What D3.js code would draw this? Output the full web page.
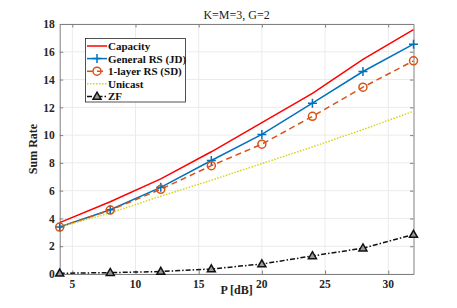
<!DOCTYPE html>
<html><head><meta charset="utf-8">
<script src="https://cdn.jsdelivr.net/npm/d3@7"></script>
<style>body{margin:0;background:#fff;} text{font-family:"Liberation Serif","Times New Roman",serif;}</style>
</head><body>
<svg id="c" width="457" height="308"></svg>
<script>
const powerDb = [4, 8, 12, 16, 20, 24, 28, 32];
const capacity = [3.7, 5.2, 6.85, 8.8, 10.9, 13.0, 15.45, 17.6];
const generalRS = [3.38, 4.63, 6.24, 8.17, 10.05, 12.3, 14.58, 16.55];
const oneLayerRS = [3.38, 4.6, 6.1, 7.8, 9.35, 11.35, 13.45, 15.35];
const unicast = [3.38, 4.4, 5.6, 6.75, 7.95, 9.15, 10.4, 11.72];
const zf = [0.05, 0.1, 0.18, 0.36, 0.72, 1.3, 1.86, 2.84];
const xTicks = [5, 10, 15, 20, 25, 30];
const yTicks = [0, 2, 4, 6, 8, 10, 12, 14, 16, 18];
const seriesNames = ["Capacity", "General RS (JD)", "1-layer RS (SD)", "Unicast", "ZF"];
const title = "K=M=3, G=2";
const xLabel = "P [dB]";
const yLabel = "Sum Rate";

const svg = d3.select("#c");
const L = 59.7, R = 413.5, T = 24, B = 274;
const x = d3.scaleLinear().domain([4, 32]).range([L, R]);
const y = d3.scaleLinear().domain([0, 18]).range([B, T]);

// grid
const g = svg.append("g");
g.selectAll("line.gx").data(xTicks).enter().append("line").attr("class", "gx")
  .attr("x1", d => x(d)).attr("x2", d => x(d)).attr("y1", T).attr("y2", B)
  .attr("stroke", "#ebebeb").attr("stroke-width", 1);
g.selectAll("line.gy").data(yTicks).enter().append("line").attr("class", "gy")
  .attr("y1", d => y(d)).attr("y2", d => y(d)).attr("x1", L).attr("x2", R)
  .attr("stroke", "#ebebeb").attr("stroke-width", 1);

// axes
const axCol = "#262626";
const xb = svg.append("g").attr("transform", `translate(0,${B})`)
  .call(d3.axisBottom(x).tickValues(xTicks).tickSizeInner(-3.5).tickSizeOuter(0).tickFormat(() => ""));
const xt = svg.append("g").attr("transform", `translate(0,${T})`)
  .call(d3.axisTop(x).tickValues(xTicks).tickSizeInner(-3.5).tickSizeOuter(0).tickFormat(() => ""));
const yl = svg.append("g").attr("transform", `translate(${L},0)`)
  .call(d3.axisLeft(y).tickValues(yTicks).tickSizeInner(-3.5).tickSizeOuter(0).tickPadding(5));
const yr = svg.append("g").attr("transform", `translate(${R},0)`)
  .call(d3.axisRight(y).tickValues(yTicks).tickSizeInner(-3.5).tickSizeOuter(0).tickFormat(() => ""));
[xb, xt, yl, yr].forEach(a => {
  a.select(".domain").attr("stroke", "#808080").attr("stroke-width", 1);
  a.selectAll(".tick line").attr("stroke", "#808080");
  a.selectAll("text").attr("fill", axCol).style("font-family", "'Liberation Serif',serif")
    .style("font-size", "11.5px").style("font-weight", "bold");
});
// x tick labels
svg.append("g").selectAll("text.xl").data(xTicks).enter().append("text").attr("class", "xl")
  .attr("x", d => x(d)).attr("y", 288).attr("text-anchor", "middle")
  .style("font-size", "11.5px").style("font-weight", "bold").attr("fill", axCol)
  .text(d => d);

// lines
const line = d3.line().x((d, i) => x(powerDb[i])).y(d => y(d));
const styles = [
  {data: capacity, color: "#FF0000", dash: null, w: 1.5},
  {data: generalRS, color: "#0072BD", dash: null, w: 1.5},
  {data: oneLayerRS, color: "#D95319", dash: "6,4", w: 1.5},
  {data: unicast, color: "#D4D41C", dash: "1.5,1.5", w: 1.5},
  {data: zf, color: "#111111", dash: "5,2,1.5,2", w: 1.5}
];
const plot = svg.append("g");
styles.forEach(s => {
  plot.append("path").datum(s.data).attr("d", line).attr("fill", "none")
    .attr("stroke", s.color).attr("stroke-width", s.w)
    .attr("stroke-dasharray", s.dash);
});

function plus(sel, cx, cy, col) {
  sel.append("path").attr("d", `M${cx-4.5},${cy}H${cx+4.5}M${cx},${cy-4.5}V${cy+4.5}`)
    .attr("stroke", col).attr("stroke-width", 1.5).attr("fill", "none");
}
function circ(sel, cx, cy, col) {
  sel.append("circle").attr("cx", cx).attr("cy", cy).attr("r", 4)
    .attr("stroke", col).attr("stroke-width", 1.5).attr("fill", "none");
}
function tri(sel, cx, cy, col) {
  sel.append("path").attr("d", `M${cx},${cy-4.2}L${cx+4},${cy+2.8}L${cx-4},${cy+2.8}Z`)
    .attr("stroke", col).attr("stroke-width", 1.5).attr("fill", "#9a9a9a");
}
generalRS.forEach((v, i) => plus(plot, x(powerDb[i]), y(v), "#0072BD"));
oneLayerRS.forEach((v, i) => circ(plot, x(powerDb[i]), y(v), "#D95319"));
zf.forEach((v, i) => tri(plot, x(powerDb[i]), y(v), "#111111"));

// title & labels
svg.append("text").attr("x", (L + R) / 2).attr("y", 19).attr("text-anchor", "middle")
  .style("font-size", "12px").attr("fill", "#222").text(title);
svg.append("text").attr("x", (L + R) / 2).attr("y", 294).attr("text-anchor", "middle")
  .style("font-size", "12px").style("font-weight", "bold").attr("fill", "#222").text(xLabel);
svg.append("text").attr("transform", `translate(37,${(T + B) / 2}) rotate(-90)`).attr("text-anchor", "middle")
  .style("font-size", "12px").style("font-weight", "bold").attr("fill", "#222").text(yLabel);

// legend
const lg = svg.append("g");
lg.append("rect").attr("x", 85.5).attr("y", 38.5).attr("width", 100).attr("height", 63.5)
  .attr("fill", "#fff").attr("stroke", "#262626").attr("stroke-width", 0.8);
seriesNames.forEach((n, i) => {
  const yy = 46 + i * 12.6;
  const s = styles[i];
  lg.append("line").attr("x1", 87).attr("x2", 107).attr("y1", yy).attr("y2", yy)
    .attr("stroke", s.color).attr("stroke-width", 1.5).attr("stroke-dasharray", s.dash);
  if (i === 1) plus(lg, 97, yy, s.color);
  if (i === 2) circ(lg, 97, yy, s.color);
  if (i === 4) tri(lg, 97, yy, s.color);
  lg.append("text").attr("x", 108).attr("y", yy + 4).style("font-size", "11px")
    .style("font-weight", "bold").attr("fill", "#111").text(n);
});
</script>
</body></html>
